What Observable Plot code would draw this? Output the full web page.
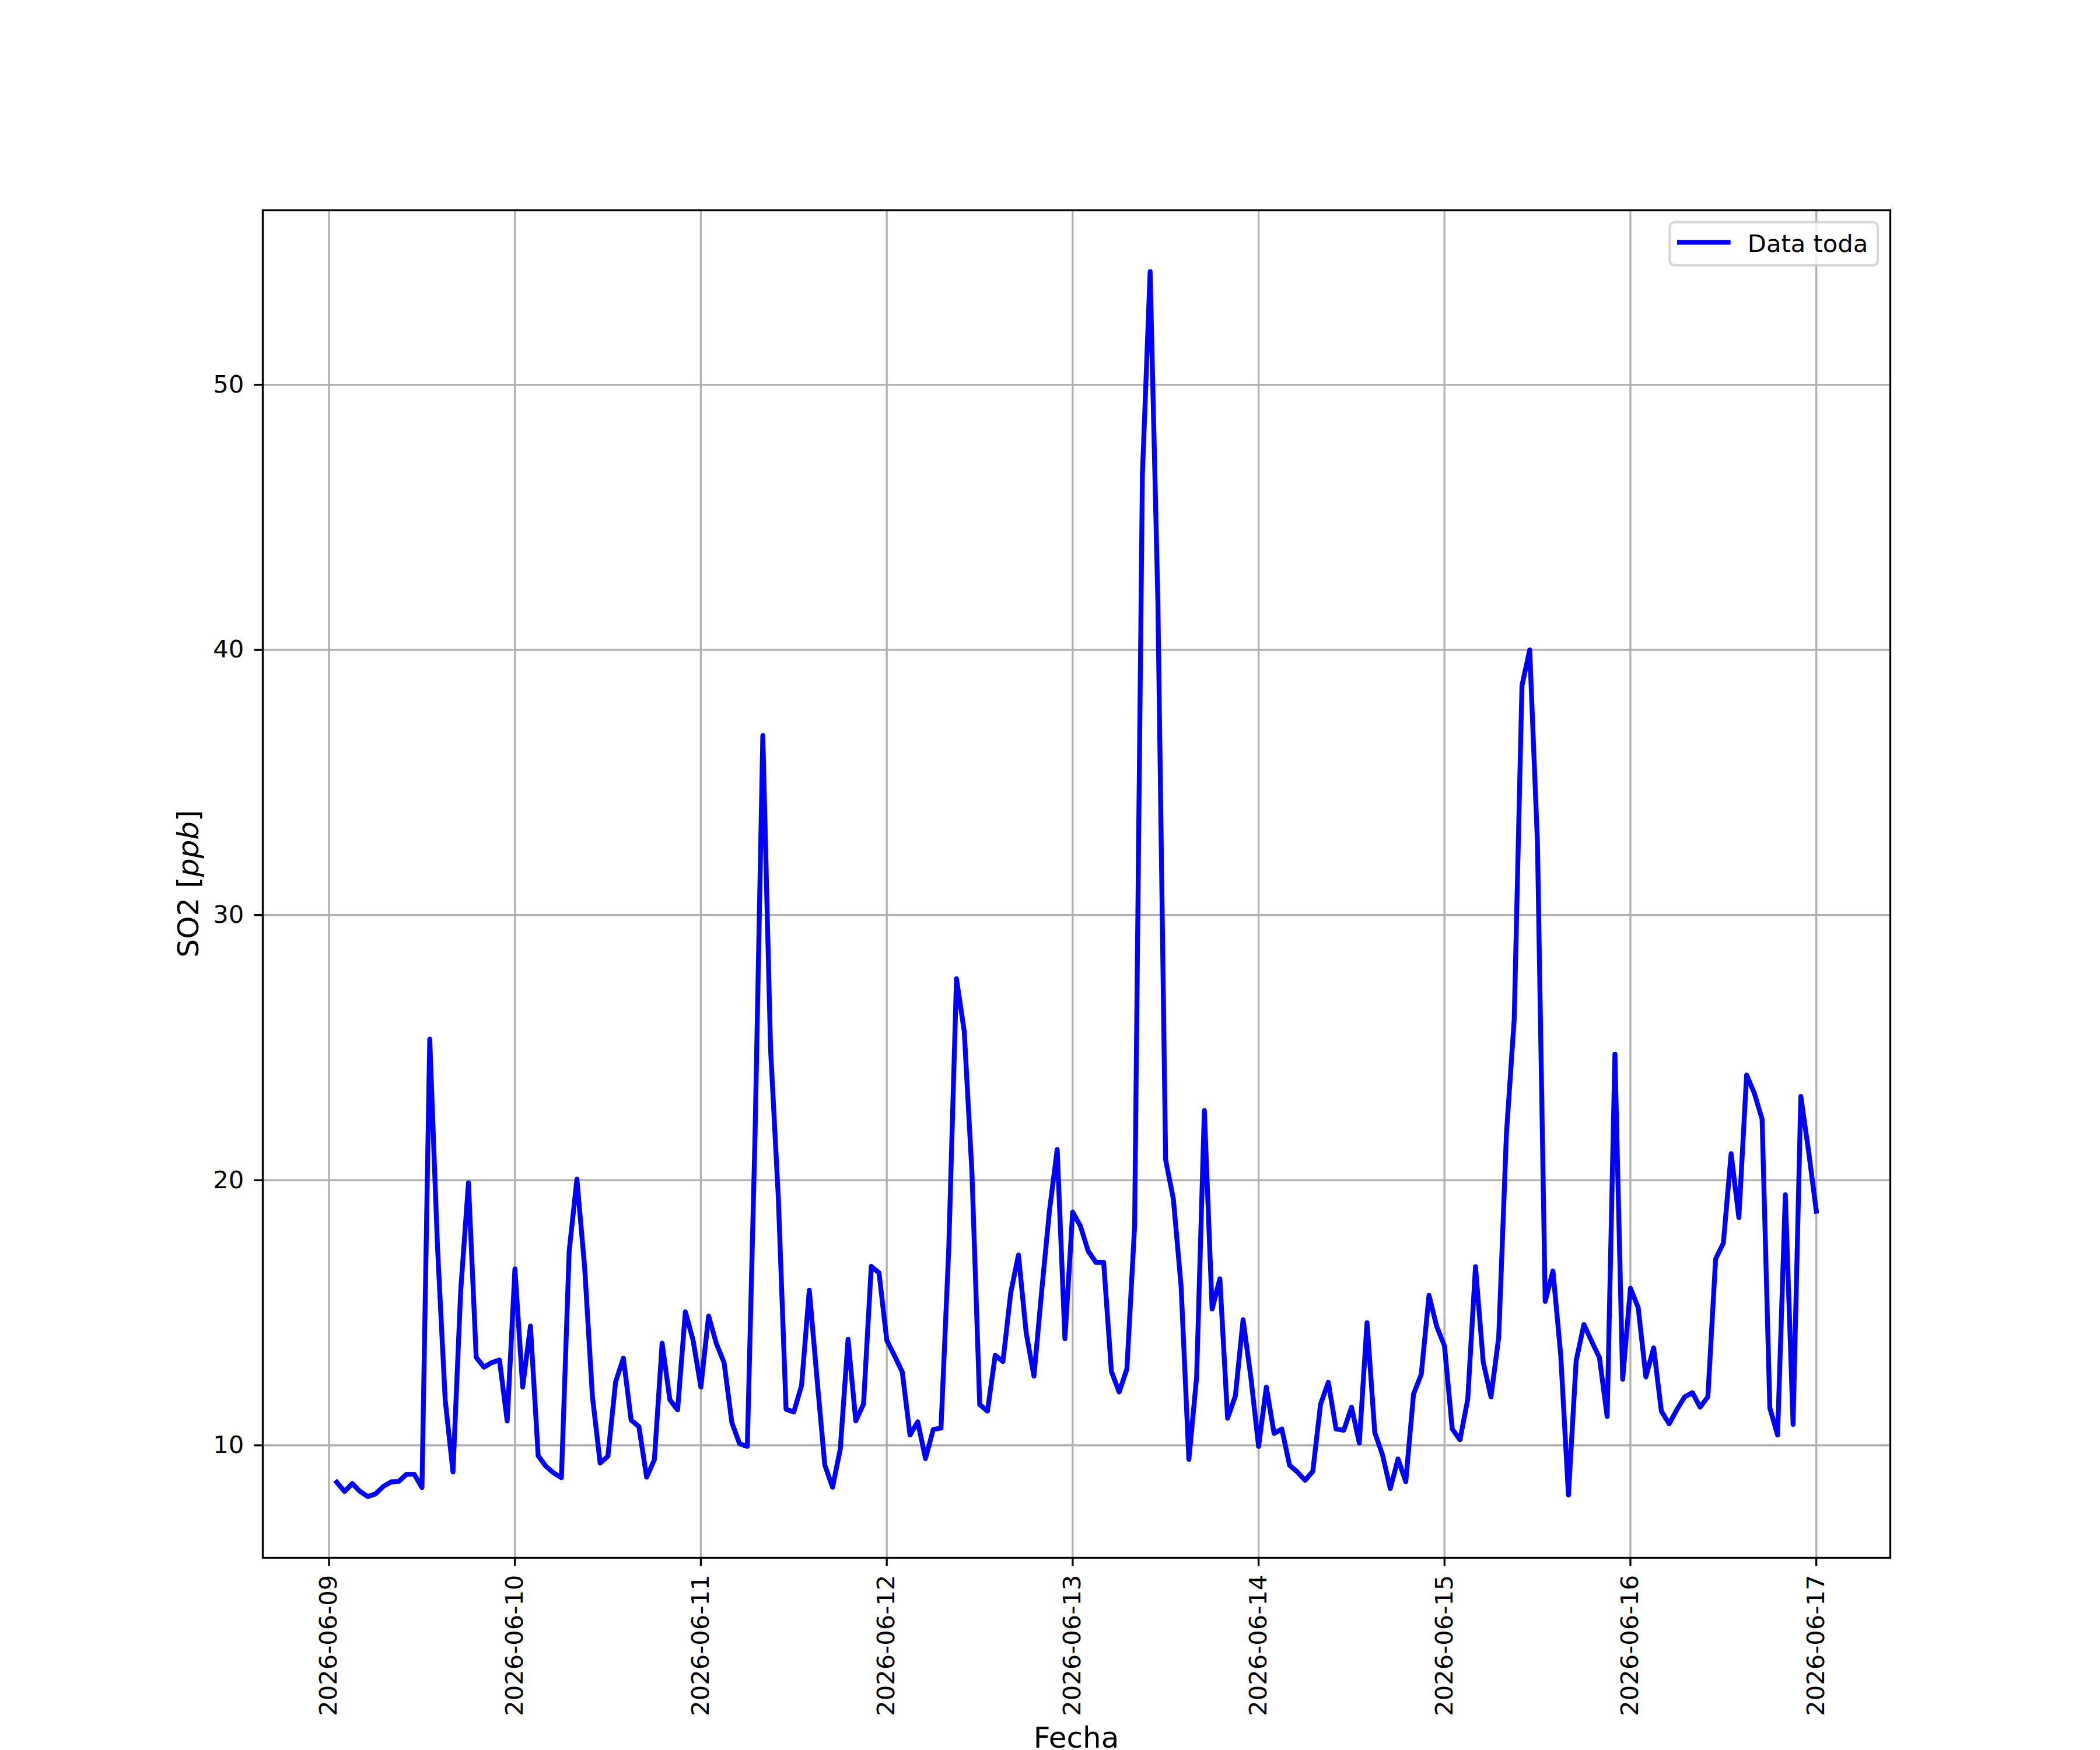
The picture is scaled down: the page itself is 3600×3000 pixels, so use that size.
<!DOCTYPE html>
<html>
<head>
<meta charset="utf-8">
<script src="https://cdn.jsdelivr.net/npm/d3@7"></script>
<script src="https://cdn.jsdelivr.net/npm/@observablehq/plot@0.6"></script>
<style>body{margin:0;background:#fff}</style>
</head>
<body>
<div id="chart"></div>
<script>
// ---- data ----
const startTime = "2026-06-09T01:00:00Z";
const stepHours = 1;
const so2 = [
  8.61, 8.26, 8.56, 8.26, 8.07, 8.17, 8.45, 8.62, 8.64, 8.91, 8.91, 8.41, 25.32, 17.5, 11.7, 9.0, 15.84, 19.9, 13.32, 12.95, 13.12, 13.22, 10.92, 16.65,
  12.2, 14.5, 9.61, 9.21, 8.96, 8.78, 17.32, 20.04, 16.71, 11.85, 9.33, 9.59, 12.4, 13.29, 10.95, 10.71, 8.8, 9.46, 13.85, 11.72, 11.34, 15.04, 13.96, 12.2,
  14.88, 13.84, 13.12, 10.86, 10.06, 9.96, 21.75, 36.77, 24.95, 19.35, 11.36, 11.26, 12.26, 15.85, 12.5, 9.26, 8.42, 9.86, 14.0, 10.92, 11.56, 16.75, 16.51, 13.97,
  13.38, 12.77, 10.39, 10.89, 9.5, 10.6, 10.65, 17.4, 27.6, 25.62, 20.27, 11.54, 11.29, 13.4, 13.16, 15.75, 17.18, 14.24, 12.61, 15.82, 18.84, 21.16, 14.02, 18.8,
  18.27, 17.33, 16.9, 16.9, 12.79, 12.01, 12.88, 18.3, 46.6, 54.27, 41.8, 20.77, 19.29, 15.98, 9.47, 12.57, 22.63, 15.14, 16.28, 11.02, 11.86, 14.74, 12.57, 9.96,
  12.2, 10.45, 10.62, 9.25, 9.0, 8.68, 9.02, 11.55, 12.38, 10.62, 10.57, 11.44, 10.09, 14.63, 10.48, 9.64, 8.37, 9.49, 8.63, 11.93, 12.68, 15.66, 14.48, 13.75,
  10.62, 10.21, 11.74, 16.74, 13.14, 11.83, 14.08, 21.77, 26.07, 38.65, 40.0, 32.72, 15.43, 16.58, 13.42, 8.13, 13.2, 14.56, 13.92, 13.31, 11.09, 24.76, 12.49, 15.93,
  15.2, 12.58, 13.68, 11.29, 10.81, 11.35, 11.83, 11.99, 11.44, 11.83, 17.03, 17.63, 21.0, 18.59, 23.97, 23.28, 22.3, 11.41, 10.39, 19.45, 10.79, 23.16, 21.1, 18.83
];
const dayTicks = ["2026-06-09","2026-06-10","2026-06-11","2026-06-12","2026-06-13","2026-06-14","2026-06-15","2026-06-16","2026-06-17"];
const yTicks = [10, 20, 30, 40, 50];
const seriesName = "Data toda";
const xLabel = "Fecha";
const yLabelParts = ["SO2 [", "ppb", "]"];

// ---- build ----
const t0 = Date.parse(startTime);
const data = so2.map((v, i) => ({t: new Date(t0 + i * stepHours * 3600e3), v}));
const ticksX = dayTicks.map(s => new Date(s + "T00:00:00Z"));
const pad = 0.05;
const [tmin, tmax] = d3.extent(data, d => +d.t);
const [vmin, vmax] = d3.extent(data, d => d.v);
const tr = tmax - tmin, vr = vmax - vmin;

const PT = 300 / 72;
const fs = 10 * PT;
const lfs = 12 * PT;
const FONT = "'DejaVu Sans', sans-serif";

function labelsMark(index, scales, values, dims) {
  const g = d3.create("svg:g").attr("font-family", FONT).attr("fill", "black");
  const cx = dims.marginLeft + (dims.width - dims.marginLeft - dims.marginRight) / 2;
  const cy = dims.marginTop + (dims.height - dims.marginTop - dims.marginBottom) / 2;
  g.append("text").attr("x", cx).attr("y", dims.height - 4)
    .attr("text-anchor", "middle").attr("font-size", lfs).text(xLabel);
  const t = g.append("text")
    .attr("transform", `translate(${dims.marginLeft - 110},${cy}) rotate(-90)`)
    .attr("text-anchor", "middle").attr("font-size", lfs);
  t.append("tspan").text(yLabelParts[0]);
  t.append("tspan").attr("font-style", "italic").text(yLabelParts[1]);
  t.append("tspan").text(yLabelParts[2]);
  return g.node();
}

function legendMark(index, scales, values, dims) {
  const w = 8.56 * fs, h = 1.78 * fs;
  const right = dims.width - dims.marginRight - 0.5 * fs;
  const top = dims.marginTop + 0.5 * fs;
  const x0 = right - w;
  const g = d3.create("svg:g").attr("font-family", FONT);
  g.append("rect").attr("x", x0).attr("y", top).attr("width", w).attr("height", h)
    .attr("rx", 0.2 * fs).attr("fill", "white").attr("fill-opacity", 0.8)
    .attr("stroke", "#cccccc").attr("stroke-opacity", 0.8).attr("stroke-width", 1 * PT);
  const lx1 = x0 + 0.4 * fs, lx2 = lx1 + 2 * fs, ly = top + 0.83 * fs;
  g.append("line").attr("x1", lx1).attr("x2", lx2).attr("y1", ly).attr("y2", ly)
    .attr("stroke", "blue").attr("stroke-width", 2 * PT).attr("stroke-linecap", "square");
  g.append("text").attr("x", lx2 + 0.8 * fs).attr("y", top + 1.22 * fs)
    .attr("text-anchor", "start")
    .attr("font-size", fs).attr("fill", "black").text(seriesName);
  return g.node();
}

const chart = Plot.plot({
  width: 3600,
  height: 3000,
  marginLeft: 450,
  marginRight: 360,
  marginTop: 360,
  marginBottom: 330,
  style: {fontFamily: FONT, fontSize: `${fs}px`, background: "white", color: "black"},
  x: {type: "utc", domain: [new Date(tmin - pad * tr), new Date(tmax + pad * tr)]},
  y: {domain: [vmin - pad * vr, vmax + pad * vr]},
  marks: [
    Plot.gridX(ticksX, {stroke: "#b0b0b0", strokeOpacity: 1, strokeWidth: 0.8 * PT}),
    Plot.gridY(yTicks, {stroke: "#b0b0b0", strokeOpacity: 1, strokeWidth: 0.8 * PT}),
    Plot.line(data, {x: "t", y: "v", stroke: "blue", strokeWidth: 2 * PT, strokeLinejoin: "round", strokeLinecap: "square"}),
    Plot.frame({stroke: "black", strokeWidth: 0.8 * PT}),
    Plot.axisX(ticksX, {tickFormat: d3.utcFormat("%Y-%m-%d"), tickRotate: -90, tickSize: 3.5 * PT, tickPadding: 3.5 * PT, strokeWidth: 0.8 * PT, fontSize: fs, label: null}),
    Plot.axisY(yTicks, {tickFormat: d => String(d), tickSize: 3.5 * PT, tickPadding: 3.5 * PT + 3, strokeWidth: 0.8 * PT, fontSize: fs, label: null}),
    labelsMark,
    legendMark
  ]
});
document.getElementById("chart").appendChild(chart);
</script>
</body>
</html>
